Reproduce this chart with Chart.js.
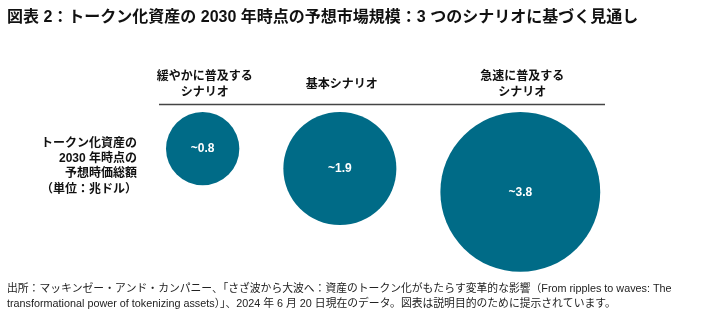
<!DOCTYPE html>
<html lang="ja">
<head>
<meta charset="utf-8">
<script src="https://cdn.jsdelivr.net/npm/chart.js@4"></script>
<style>
    html, body { margin: 0; padding: 0; background: #fff; }
    #bubbleChart { display: block; }
</style>
</head>
<body>
<canvas id="bubbleChart" width="704" height="329"></canvas>
<script>
// data
const chartTitle = '図表 2：トークン化資産の 2030 年時点の予想市場規模：3 つのシナリオに基づく見通し';
const scenarioNames = [['緩やかに普及する', 'シナリオ'], ['基本シナリオ'], ['急速に普及する', 'シナリオ']];
const marketValues = [0.8, 1.9, 3.8];
const valueLabels = ['~0.8', '~1.9', '~3.8'];
const rowLabel = ['トークン化資産の', '2030 年時点の', '予想時価総額', '（単位：兆ドル）'];
const sourceLines = [
    '出所：マッキンゼー・アンド・カンパニー、「さざ波から大波へ：資産のトークン化がもたらす変革的な影響（From ripples to waves: The',
    'transformational power of tokenizing assets）」、2024 年 6 月 20 日現在のデータ。図表は説明目的のために提示されています。'
];

// layout (pixel units, the scales run 0..704 and 0..329)
const RADIUS_PER_SQRT = 41;   // bubble area proportional to value
const BUBBLE_LEFT = 166;
const BUBBLE_GAP = 44;
const BUBBLE_TOP = 112;
const BLUE = '#006b87';
const JP_FONT = '"Liberation Sans", "Noto Sans CJK JP", sans-serif';

document.addEventListener('DOMContentLoaded', function() {
    const ctx = document.getElementById('bubbleChart').getContext('2d');

    // bubbles sit side by side, tops aligned
    let cursor = BUBBLE_LEFT;
    const points = marketValues.map(function(v) {
        const r = RADIUS_PER_SQRT * Math.sqrt(v);
        const p = { x: cursor + r, y: BUBBLE_TOP + r, r: r };
        cursor += 2 * r + BUBBLE_GAP;
        return p;
    });

    // texts around the bubbles
    const labelsPlugin = {
        id: 'labels',
        afterDatasetsDraw(chart) {
            const c = chart.ctx;
            const meta = chart.getDatasetMeta(0);
            c.save();

            // title
            c.fillStyle = '#111';
            c.font = 'bold 16px ' + JP_FONT;
            c.textAlign = 'left';
            c.textBaseline = 'middle';
            c.fillText(chartTitle, 7, 18);

            // scenario headers
            c.font = 'bold 12px ' + JP_FONT;
            c.textAlign = 'center';
            scenarioNames.forEach(function(lines, i) {
                const x = meta.data[i].x + 2;
                const y0 = 84.5 - (lines.length - 1) * 7.8;
                lines.forEach(function(t, j) {
                    c.fillText(t, x, y0 + j * 15.6);
                });
            });

            // rule under headers
            c.strokeStyle = '#444';
            c.lineWidth = 1.5;
            c.beginPath();
            c.moveTo(159, 104.5);
            c.lineTo(605, 104.5);
            c.stroke();

            // row label
            c.textAlign = 'right';
            rowLabel.forEach(function(t, j) {
                c.fillText(t, 137, 143.5 + j * 15.3);
            });

            // values inside bubbles
            c.fillStyle = '#fff';
            c.textAlign = 'center';
            valueLabels.forEach(function(t, i) {
                const el = meta.data[i];
                c.fillText(t, el.x, el.y + 0.5);
            });

            // source
            c.fillStyle = '#222';
            c.font = '10.8px ' + JP_FONT;
            c.textAlign = 'left';
            sourceLines.forEach(function(t, j) {
                c.fillText(t, 7, 289 + j * 15.5);
            });

            c.restore();
        }
    };

    const bubbleChart = new Chart(ctx, {
        type: 'bubble',
        data: {
            datasets: [{
                label: '予想時価総額',
                data: points,
                backgroundColor: BLUE,
                borderWidth: 0,
                hoverRadius: 0
            }]
        },
        options: {
            responsive: false,
            animation: false,
            devicePixelRatio: 1,
            layout: { padding: 0, autoPadding: false },
            events: [],
            scales: {
                x: { type: 'linear', min: 0, max: 704, display: false },
                y: { type: 'linear', min: 0, max: 329, reverse: true, display: false }
            },
            plugins: {
                legend: { display: false },
                tooltip: { enabled: false }
            }
        },
        plugins: [labelsPlugin]
    });
});
</script>
</body>
</html>
